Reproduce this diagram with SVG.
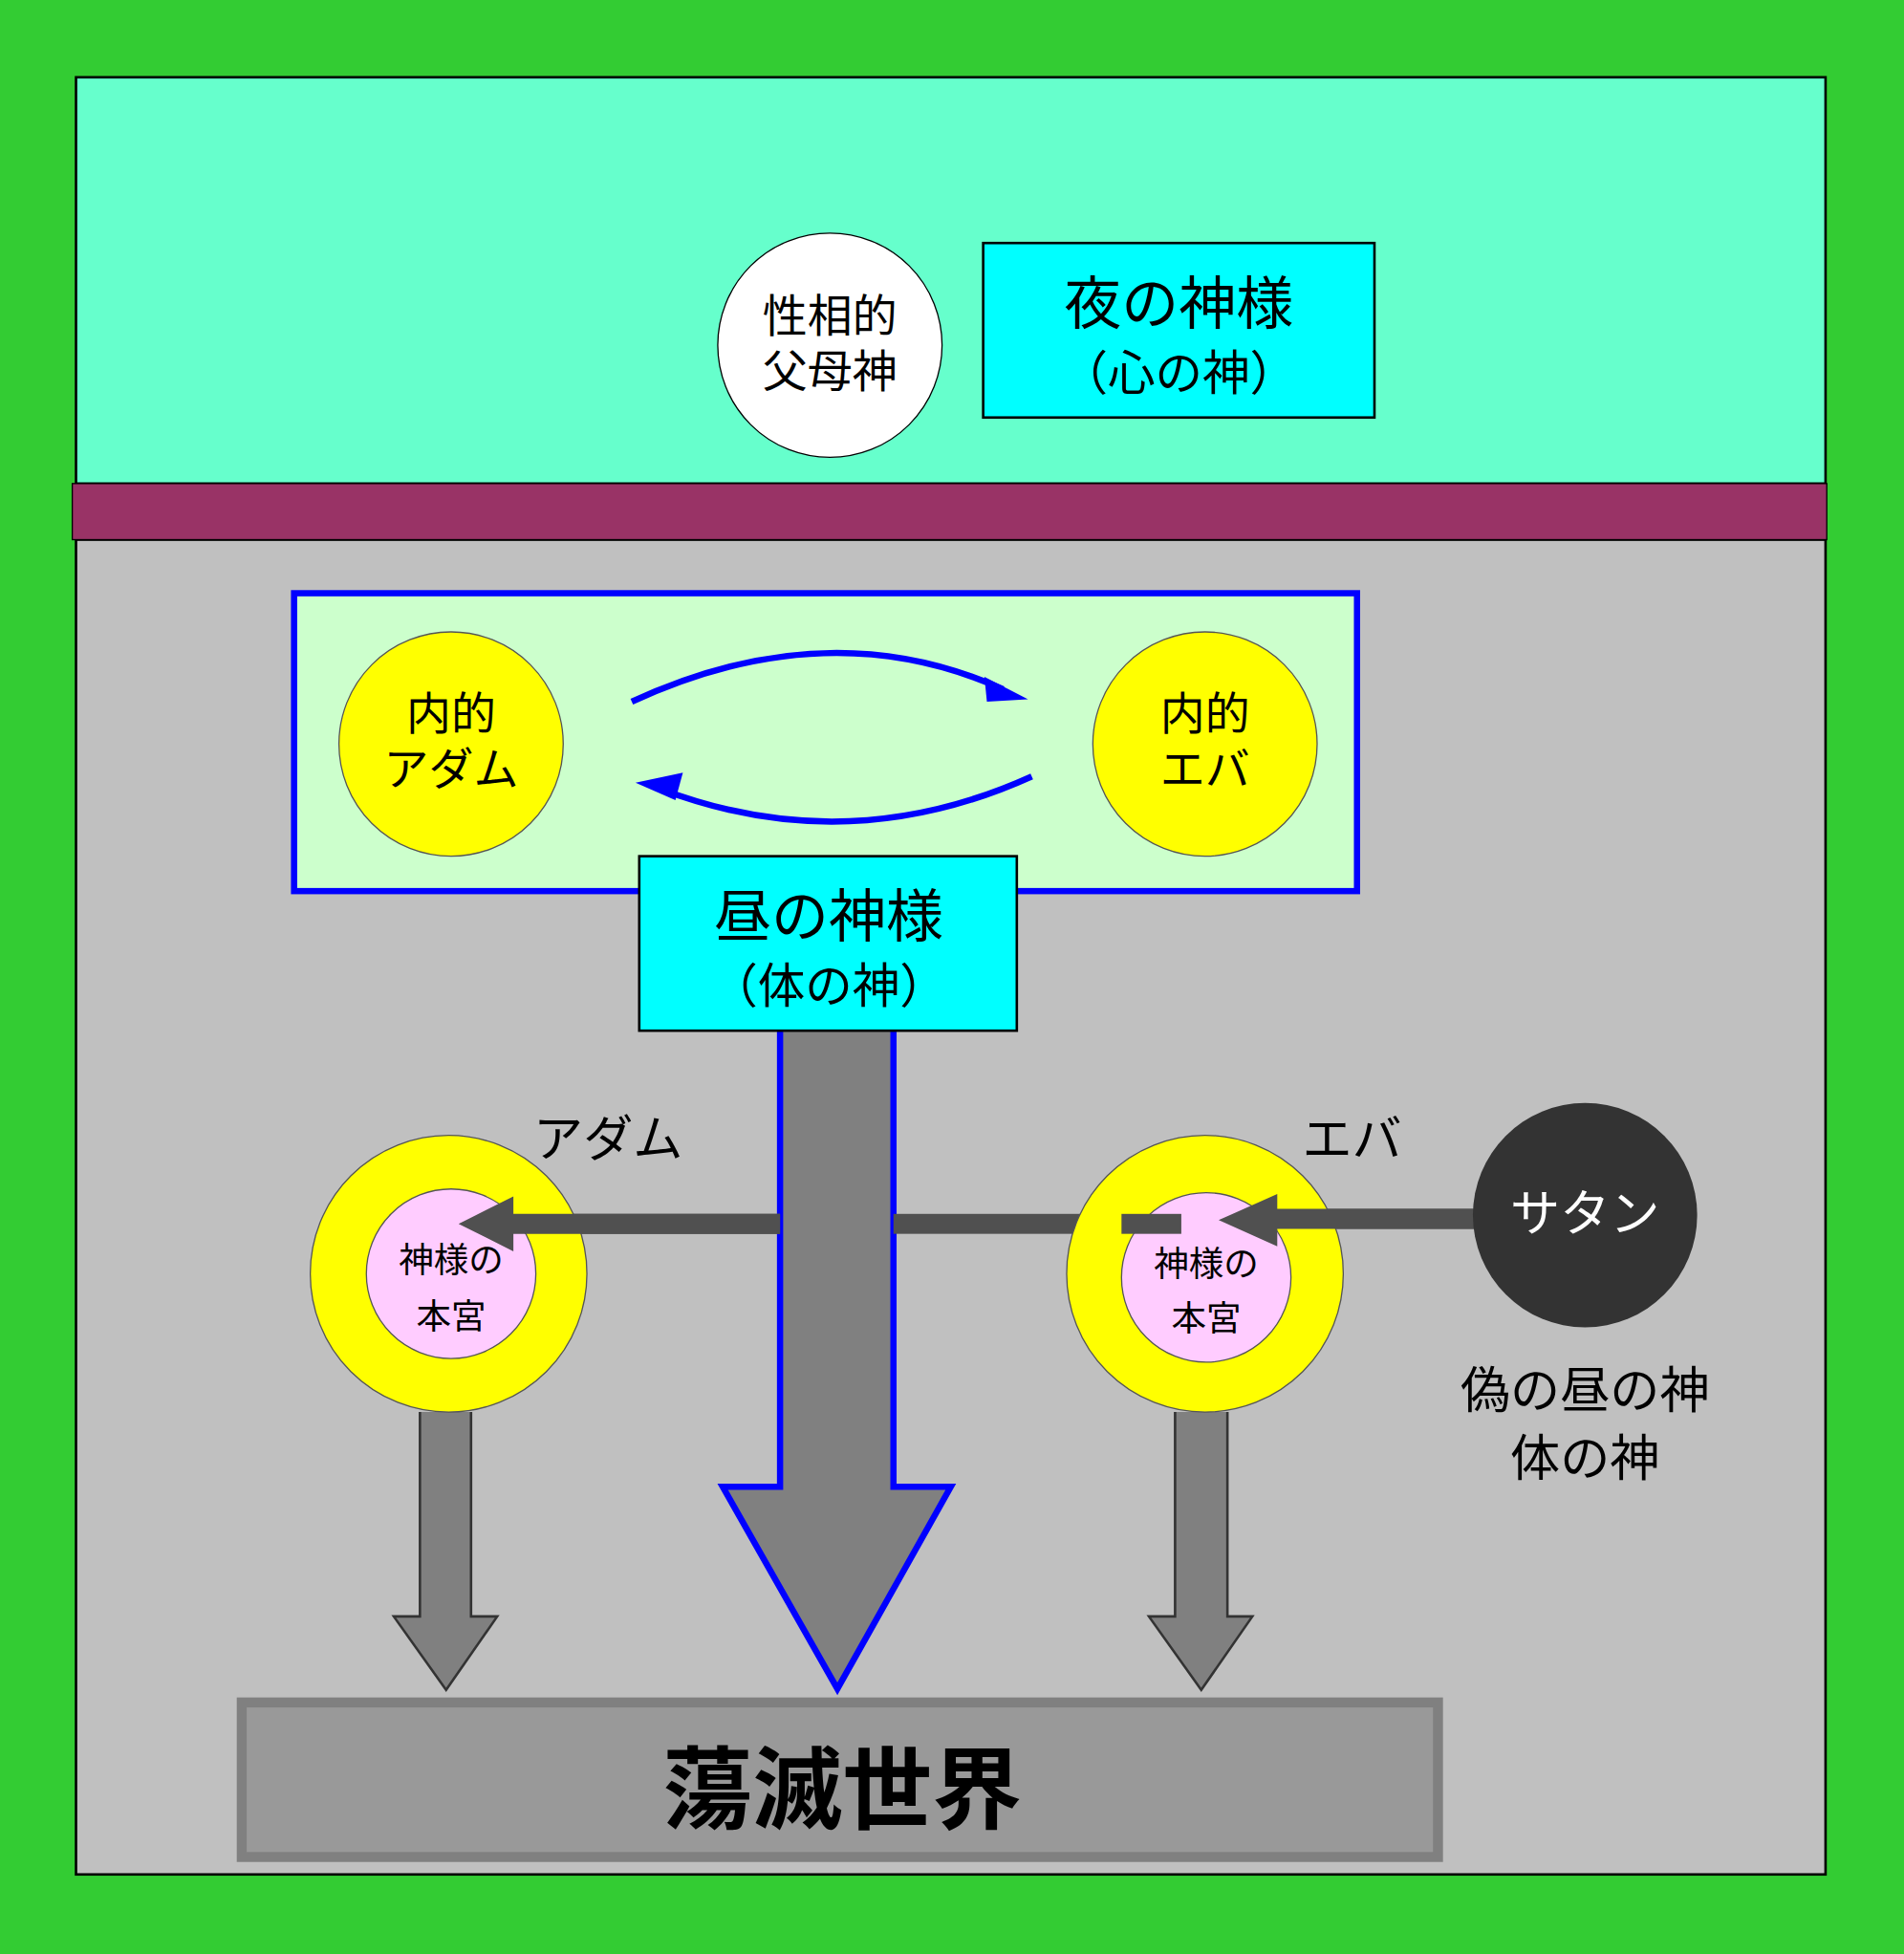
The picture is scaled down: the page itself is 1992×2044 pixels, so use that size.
<svg xmlns="http://www.w3.org/2000/svg" width="1992" height="2044" viewBox="0 0 1992 2044">
<style>
text{font-family:"Liberation Sans","Noto Sans CJK JP",sans-serif;text-anchor:middle;fill:#000}
.m{font-size:36px}.l{font-size:46px}.s{font-size:28px}
</style>
<defs>
<marker id="bh" markerWidth="10" markerHeight="8" refX="8" refY="4" orient="auto" markerUnits="userSpaceOnUse" viewBox="0 0 10 8"><path d="M0,0L10,4L0,8z" fill="#0000ff"/></marker>
</defs>
<rect width="1992" height="2044" fill="#33cc33"/>
<g transform="scale(1.3037)">
<rect x="61" y="62" width="1404" height="326" fill="#66ffcc" stroke="#000" stroke-width="2"/>
<rect x="61" y="433" width="1404" height="1071" fill="#c0c0c0" stroke="#000" stroke-width="2"/>
<rect x="58" y="388" width="1408" height="45" fill="#993366" stroke="#000" stroke-width="1"/>
<g id="father"><circle cx="666" cy="277" r="90" fill="#fff" stroke="#000"/><text class="m" x="666" y="266">性相的</text><text class="m" x="666" y="311">父母神</text></g>
<g id="night"><rect x="789" y="195" width="314" height="140" fill="#00ffff" stroke="#000" stroke-width="2"/><text class="l" x="946" y="260">夜の神様</text><text x="946" y="313" font-size="38">（心の神）</text></g>
<g id="inner"><rect x="236" y="476" width="853" height="239" fill="#ccffcc" stroke="#0000ff" stroke-width="5"/></g>
<g id="iadam"><circle cx="362" cy="597" r="90" fill="#ffff00" stroke="#555"/><text class="m" x="362" y="585">内的</text><text class="m" x="362" y="630">アダム</text></g>
<g id="ieve"><circle cx="967" cy="597" r="90" fill="#ffff00" stroke="#555"/><text class="m" x="967" y="585">内的</text><text class="m" x="967" y="630">エバ</text></g>
<g id="connectors">
<path d="M507,563 Q665,490 805,553" fill="none" stroke="#0000ff" stroke-width="5"/>
<path d="M790,543 L825,561 L792,563z" fill="#0000ff"/>
<path d="M828,623 Q680,690 530,633" fill="none" stroke="#0000ff" stroke-width="5"/>
<path d="M510,628 L548,620 L542,642z" fill="#0000ff"/>
<path d="M626,827 V1193 H580 L672,1355 L763,1193 H717 V827" fill="#808080" stroke="#0000ff" stroke-width="5"/>
<path d="M626,974 H412 V960 L368,982 L412,1004 V990 H626z" fill="#505050"/>
<rect x="717" y="974" width="231" height="16" fill="#505050"/>
<path d="M1195,970 H1025 V958 L978,979 L1025,1000 V986 H1195z" fill="#505050"/>
<path d="M337,1133 V1297 H316 L358,1356 L399,1297 H378 V1133" fill="#808080" stroke="#333" stroke-width="2"/>
<path d="M943,1133 V1297 H922 L964,1356 L1005,1297 H985 V1133" fill="#808080" stroke="#333" stroke-width="2"/>
</g>
<g id="day"><rect x="513" y="687" width="303" height="140" fill="#00ffff" stroke="#000" stroke-width="2"/><text class="l" x="665" y="752">昼の神様</text><text x="665" y="805" font-size="38">（体の神）</text></g>
<g id="adam"><circle cx="360" cy="1022" r="111" fill="#ffff00" stroke="#555"/><circle cx="362" cy="1022" r="68" fill="#ffccff" stroke="#555"/><text class="s" x="362" y="1031" dy="-10">神様の</text><text class="s" x="362" y="1066">本宮</text><text x="488" y="928" font-size="40">アダム</text></g>
<path d="M626,974 H412 V960 L368,982 L412,1004 V990 H626z" fill="#505050"/>
<g id="eve"><circle cx="967" cy="1022" r="111" fill="#ffff00" stroke="#555"/><circle cx="968" cy="1025" r="68" fill="#ffccff" stroke="#555"/><text class="s" x="968" y="1033" dy="-9">神様の</text><text class="s" x="968" y="1068">本宮</text><text x="1085" y="928" font-size="40">エバ</text></g>
<rect x="900" y="974" width="48" height="16" fill="#505050"/>
<path d="M1195,970 H1025 V958 L978,979 L1025,1000 V986 H1195z" fill="#505050"/>
<g id="satan"><circle cx="1272" cy="975" r="90" fill="#333"/><text x="1272" y="988" font-size="40" style="fill:#fff">サタン</text><text x="1272" y="1130" font-size="40">偽の昼の神</text><text x="1272" y="1184" font-size="40">体の神</text></g>
<g id="world"><rect x="194" y="1366" width="960" height="124" fill="#999" stroke="#808080" stroke-width="8"/><text x="676" y="1462" font-size="72" font-weight="bold">蕩滅世界</text></g>
</g>
</svg>
